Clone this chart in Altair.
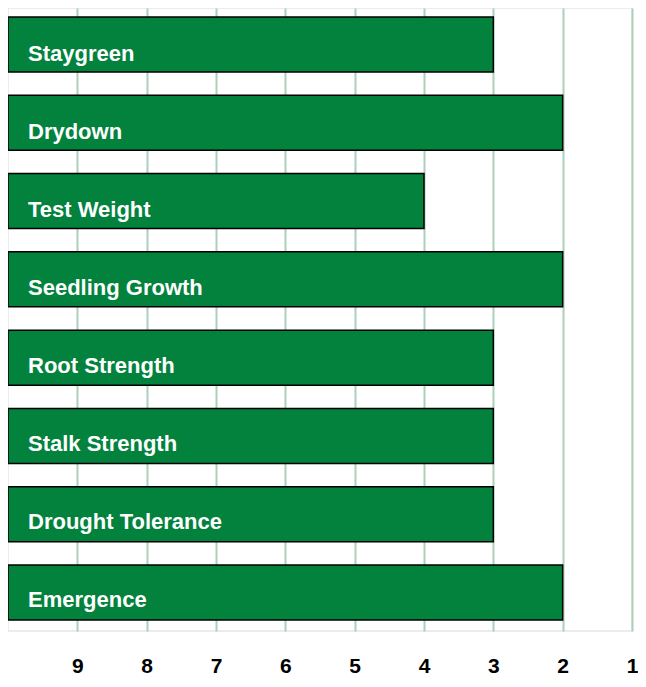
import altair as alt
import pandas as pd

traits = ["Staygreen", "Drydown", "Test Weight", "Seedling Growth",
          "Root Strength", "Stalk Strength", "Drought Tolerance", "Emergence"]
scores = [3, 2, 4, 2, 3, 3, 3, 2]
scale_start = [10] * len(traits)
tick_values = [1, 2, 3, 4, 5, 6, 7, 8, 9]

df = pd.DataFrame({"trait": traits, "score": scores, "start": scale_start})

FONT = "Liberation Sans"
GREEN = "#02823d"

x_scale = alt.Scale(domain=[1, 10], reverse=True, nice=False, zero=False)

bars = alt.Chart(df).mark_bar(
    color=GREEN, stroke="#000000", strokeWidth=1.5
).encode(
    x=alt.X("score:Q", scale=x_scale,
            axis=alt.Axis(values=tick_values, format="d", grid=True,
                          gridColor="#acd0ba", gridWidth=2, domain=False,
                          ticks=False, labelFontSize=21, labelFontWeight="bold",
                          labelColor="#000000", labelFont=FONT,
                          labelPadding=24, labelFlush=False, title=None)),
    x2="start:Q",
    y=alt.Y("trait:N", sort=traits, axis=None,
            scale=alt.Scale(paddingInner=0.2976, paddingOuter=0.128, align=0.45)),
)

labels = alt.Chart(df).mark_text(
    align="left", baseline="alphabetic", dx=20, dy=14.5,
    font=FONT, fontSize=22, fontWeight="bold", color="#ffffff"
).encode(
    x=alt.X("start:Q", scale=x_scale),
    y=alt.Y("trait:N", sort=traits, axis=None,
            scale=alt.Scale(paddingInner=0, paddingOuter=0.023, align=0.5)),
    text="trait:N",
)

chart = alt.layer(bars, labels).resolve_scale(y="independent").properties(
    width=624, height=623,
    autosize=alt.AutoSizeParams(type="none"),
    padding={"left": 0, "top": 0, "right": 6, "bottom": 48},
).configure_view(stroke="#e2e8e5", strokeWidth=1.5)

chart.save("out.html", embed_options={"renderer": "svg", "actions": False})
